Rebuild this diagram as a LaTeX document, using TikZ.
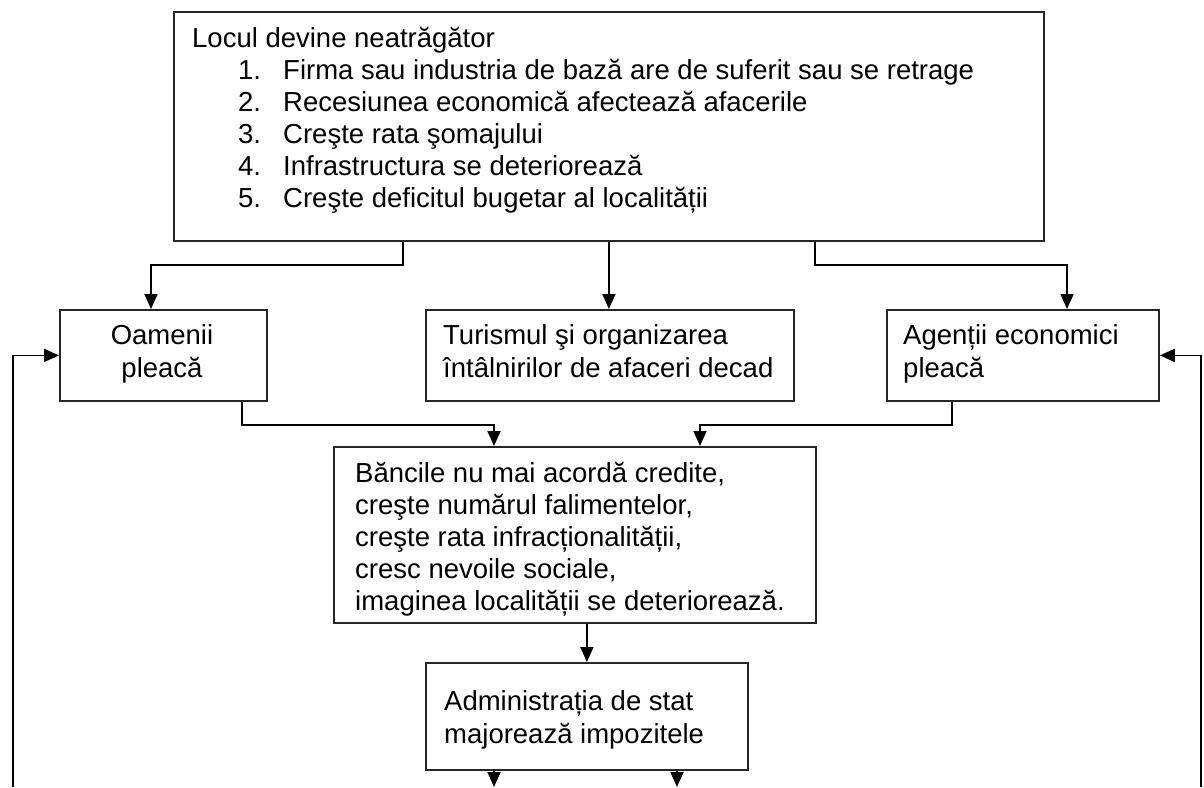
\documentclass[tikz,border=0pt]{standalone}
\usepackage{fontspec}
\setmainfont{Liberation Sans}
\usetikzlibrary{arrows.meta}
\begin{document}
\begin{tikzpicture}[x=1pt,y=-1pt,
  box/.style={draw=black!85, line width=1.8pt, inner sep=0pt, anchor=north west},
  txt/.style={anchor=base west, inner sep=0pt, font=\fontsize{27.5}{32}\selectfont},
  ctxt/.style={anchor=base, inner sep=0pt, font=\fontsize{27.5}{32}\selectfont},
  conn/.style={draw=black, line width=1.8pt, -{Triangle[length=15pt,width=13pt]}}]
\useasboundingbox (0,0) rectangle (1204,787);
\fill[white] (0,0) rectangle (1204,787);

% boxes
\node[box, minimum width=870pt, minimum height=229pt] (top) at (173,11) {};
\node[box, minimum width=207pt, minimum height=91pt] (oam) at (59,309) {};
\node[box, minimum width=368pt, minimum height=91pt] (tur) at (425,309) {};
\node[box, minimum width=272pt, minimum height=91pt] (agn) at (886,309) {};
\node[box, minimum width=482pt, minimum height=176pt] (banc) at (333,446) {};
\node[box, minimum width=322pt, minimum height=107pt] (adm) at (425,662) {};

% top box text
\node[txt] (t0) at (192,47) {Locul devine neatrăgător};
\node[txt] (n1) at (238,79) {1.};
\node[txt] (l1) at (283,79) {Firma sau industria de bază are de suferit sau se retrage};
\node[txt] (n2) at (238,111) {2.};
\node[txt] (l2) at (283,111) {Recesiunea economică afectează afacerile};
\node[txt] (n3) at (238,143) {3.};
\node[txt] (l3) at (283,143) {Creşte rata şomajului};
\node[txt] (n4) at (238,175) {4.};
\node[txt] (l4) at (283,175) {Infrastructura se deteriorează};
\node[txt] (n5) at (238,207) {5.};
\node[txt] (l5) at (283,207) {Creşte deficitul bugetar al localității};

% second row text
\node[ctxt] (o1) at (162,344) {Oamenii};
\node[ctxt] (o2) at (162,377) {pleacă};
\node[txt] (u1) at (443,344) {Turismul şi organizarea};
\node[txt] (u2) at (443,377) {întâlnirilor de afaceri decad};
\node[txt] (a1) at (903,344) {Agenții economici};
\node[txt] (a2) at (903,377) {pleacă};

% banks box text
\node[txt] (b1) at (355,482) {Băncile nu mai acordă credite,};
\node[txt] (b2) at (355,514) {creşte numărul falimentelor,};
\node[txt] (b3) at (355,546) {creşte rata infracționalității,};
\node[txt] (b4) at (355,578) {cresc nevoile sociale,};
\node[txt] (b5) at (355,610) {imaginea localității se deteriorează.};

% administration text
\node[txt] (d1) at (444,710) {Administrația de stat};
\node[txt] (d2) at (444,743) {majorează impozitele};

% connectors from top box
\draw[conn] ([xshift=230pt]top.south west) -- ++(0,23) -| ([xshift=92pt]oam.north west);
\draw[conn] (top.south) -- (top.south |- tur.north);
\draw[conn] ([xshift=642pt]top.south west) -- ++(0,23) -| ([xshift=181pt]agn.north west);

% to banks box
\draw[conn] ([xshift=183pt]oam.south west) -- ++(0,23) -| ([xshift=161pt]banc.north west);
\draw[conn] ([xshift=66pt]agn.south west) -- ++(0,23) -| ([xshift=367pt]banc.north west);

% banks to administration
\draw[conn] (banc.south -| adm.north) -- (adm.north);

% outgoing arrows at the bottom
\coordinate (e1) at (494,787);
\coordinate (e2) at (677,787);
\draw[conn] (adm.south -| e1) -- (e1);
\draw[conn] (adm.south -| e2) -- (e2);

% feedback lines
\coordinate (fl) at (13,787);
\coordinate (fr) at (1201,787);
\draw[conn] (fl) |- (oam.west);
\draw[conn] (fr) |- (agn.east);
\end{tikzpicture}
\end{document}
